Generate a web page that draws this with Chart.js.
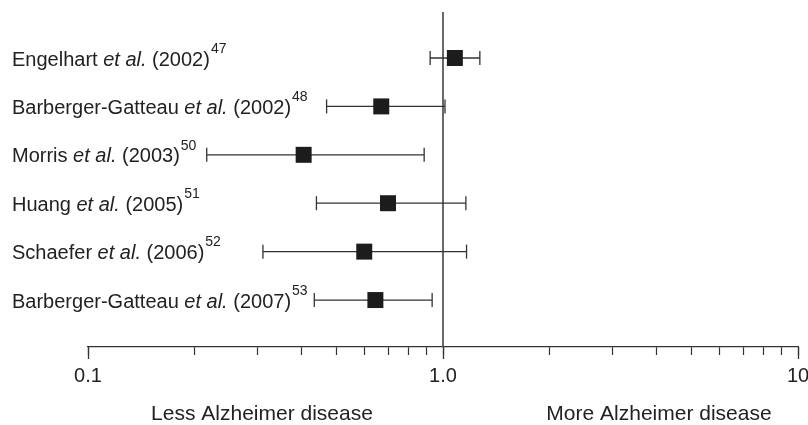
<!DOCTYPE html>
<html>
<head>
<meta charset="utf-8">
<script src="https://cdn.jsdelivr.net/npm/chart.js@4"></script>
<style>
  html, body { margin: 0; padding: 0; background: #fff; }
  #wrap { width: 808px; height: 425px; }
</style>
</head>
<body>
<div id="wrap"><canvas id="forest" width="808" height="425"></canvas></div>
<script>
// studies (top to bottom)
const authors = ["Engelhart", "Barberger-Gatteau", "Morris", "Huang", "Schaefer", "Barberger-Gatteau"];
const years = ["2002", "2002", "2003", "2005", "2006", "2007"];
const refs = ["47", "48", "50", "51", "52", "53"];

// estimates
const oddsRatio = [1.08, 0.67, 0.405, 0.70, 0.60, 0.645];
const lowerCI = [0.92, 0.47, 0.216, 0.44, 0.311, 0.434];
const upperCI = [1.27, 1.013, 0.885, 1.16, 1.165, 0.932];

// x axis ticks
const xTicks = [0.1, 0.2, 0.3, 0.4, 0.5, 0.6, 0.7, 0.8, 0.9, 1, 2, 3, 4, 5, 6, 7, 8, 9, 10];
const majorTicks = [0.1, 1, 10];
const tickLabels = { "0.1": "0.1", "1": "1.0", "10": "10" };
const captions = ["Less Alzheimer disease", "More Alzheimer disease"];

const FONT = '"Liberation Sans", Arial, sans-serif';
const INK = "#333";

const datasets = [];

// squares on top
datasets.push({
  data: oddsRatio.map((v, i) => ({ x: v, y: i + 1 })),
  showLine: false,
  pointStyle: "rect",
  pointRadius: 11.3,
  pointBorderWidth: 0,
  pointBackgroundColor: "#1c1c1c",
  order: 0
});

// whiskers
authors.forEach((a, i) => {
  datasets.push({
    data: [{ x: lowerCI[i], y: i + 1 }, { x: upperCI[i], y: i + 1 }],
    borderColor: INK,
    borderWidth: 1.3,
    pointStyle: "line",
    rotation: 90,
    pointRadius: 7,
    pointBorderWidth: 1.3,
    pointBorderColor: INK,
    order: 1
  });
});

// line of no effect
datasets.push({
  data: [{ x: 1, y: 0.05 }, { x: 1, y: 6.97 }],
  borderColor: "#444",
  borderWidth: 1.6,
  pointRadius: 0,
  order: 2
});

const labelPlugin = {
  id: "studyLabels",
  afterDraw(chart) {
    const ctx = chart.ctx;
    const xScale = chart.scales.x;
    const yScale = chart.scales.y;
    ctx.save();
    // longer ticks at the decades
    ctx.strokeStyle = INK;
    ctx.lineWidth = 1.3;
    majorTicks.forEach((v) => {
      const px = Math.round(xScale.getPixelForValue(v)) + 0.5;
      ctx.beginPath();
      ctx.moveTo(px, xScale.top);
      ctx.lineTo(px, xScale.top + 12);
      ctx.stroke();
    });
    ctx.fillStyle = "#222";
    ctx.textAlign = "left";
    ctx.textBaseline = "middle";
    authors.forEach((a, i) => {
      const py = yScale.getPixelForValue(i + 1) + 2;
      let px = 12;
      ctx.font = "20px " + FONT;
      ctx.fillText(a + " ", px, py);
      px += ctx.measureText(a + " ").width;
      ctx.font = "italic 20px " + FONT;
      ctx.fillText("et al.", px, py);
      px += ctx.measureText("et al. ").width;
      ctx.font = "20px " + FONT;
      const yr = "(" + years[i] + ")";
      ctx.fillText(yr, px, py);
      px += ctx.measureText(yr).width;
      ctx.font = "14px " + FONT;
      ctx.fillText(refs[i], px + 1, py - 11);
    });
    ctx.textAlign = "center";
    ctx.font = "21px " + FONT;
    ctx.fillText(captions[0], 262, 414);
    ctx.fillText(captions[1], 659, 414);
    ctx.restore();
  }
};

new Chart(document.getElementById("forest"), {
  type: "line",
  data: { datasets: datasets },
  options: {
    responsive: false,
    animation: false,
    layout: { autoPadding: false, padding: { left: 88, right: 10, top: 12, bottom: 28 } },
    plugins: { legend: { display: false }, tooltip: { enabled: false } },
    scales: {
      x: {
        type: "logarithmic",
        min: 0.1,
        max: 10,
        afterBuildTicks: (s) => { s.ticks = xTicks.map((v) => ({ value: v })); },
        afterFit: (s) => { s.paddingLeft = 0; s.paddingRight = 0; },
        ticks: {
          autoSkip: false,
          maxRotation: 0,
          color: "#222",
          padding: 9,
          font: { size: 20, family: FONT },
          callback: (v) => tickLabels[String(v)] || ""
        },
        grid: { drawOnChartArea: false, tickLength: 8, tickColor: INK, tickWidth: 1.2 },
        border: { color: INK, width: 1.3 }
      },
      y: {
        type: "linear",
        min: 0.05,
        max: 6.97,
        reverse: true,
        display: false
      }
    }
  },
  plugins: [labelPlugin]
});
</script>
</body>
</html>
